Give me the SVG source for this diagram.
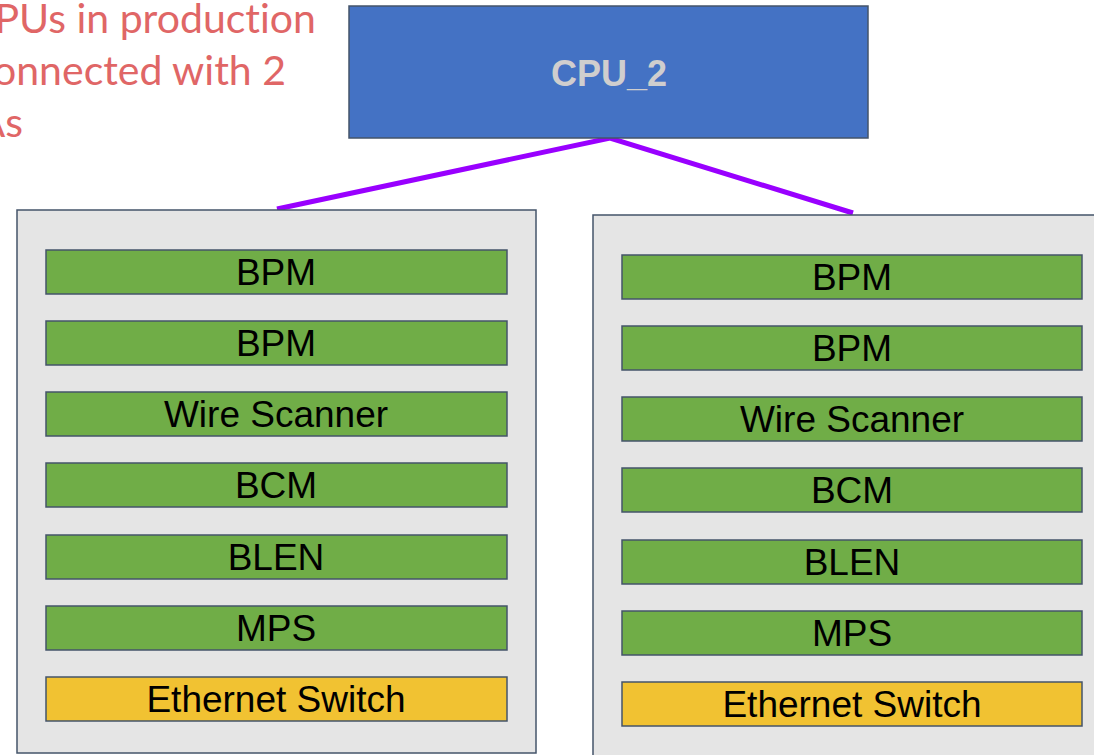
<svg xmlns="http://www.w3.org/2000/svg" width="1094" height="755" viewBox="0 0 1094 755">
  <style>
    .note { font-family: Lato, "Open Sans", sans-serif; font-size: 41px; fill: #e06666; text-anchor: end; font-variant-ligatures: none; }
    .crate { fill: #e5e5e5; stroke: #44546a; stroke-width: 1.5; }
    .card { stroke: #44546a; stroke-width: 1.5; }
    .green { fill: #70ad47; }
    .yellow { fill: #f1c232; }
    .label { font-family: "Liberation Sans", Arial, sans-serif; font-size: 37px; fill: #000; text-anchor: middle; }
    .cpu { fill: #4472c4; stroke: #44546a; stroke-width: 1.5; }
    .cpu-label { font-family: "Liberation Sans", Arial, sans-serif; font-size: 36px; font-weight: bold; fill: #d0cece; text-anchor: middle; }
    .link { stroke: #9900ff; stroke-width: 5; fill: none; }
  </style>

  <!-- annotation text, running off the left edge -->
  <g id="note">
    <text class="note" x="316" y="33">PUs in production</text>
    <text class="note" x="286" y="85">onnected with 2</text>
    <text class="note" x="23" y="137">As</text>
  </g>

  <!-- links from the CPU to both crates -->
  <g id="connectors">
    <polyline class="link" points="277,209 610,138 853,213"/>
  </g>

  <g id="cpu2">
    <rect class="cpu" x="349" y="6" width="519" height="132"/>
    <text class="cpu-label" x="609" y="86">CPU_2</text>
  </g>

  <!-- left crate -->
  <g id="crate-left">
    <rect class="crate" x="17" y="210" width="519" height="543"/>
    <g id="left-bpm1"><rect class="card green" x="46" y="250" width="461" height="44"/><text class="label" x="276" y="285">BPM</text></g>
    <g id="left-bpm2"><rect class="card green" x="46" y="321" width="461" height="44"/><text class="label" x="276" y="356">BPM</text></g>
    <g id="left-ws"><rect class="card green" x="46" y="392" width="461" height="44"/><text class="label" x="276" y="427">Wire Scanner</text></g>
    <g id="left-bcm"><rect class="card green" x="46" y="463" width="461" height="44"/><text class="label" x="276" y="498">BCM</text></g>
    <g id="left-blen"><rect class="card green" x="46" y="535" width="461" height="44"/><text class="label" x="276" y="570">BLEN</text></g>
    <g id="left-mps"><rect class="card green" x="46" y="606" width="461" height="44"/><text class="label" x="276" y="641">MPS</text></g>
    <g id="left-eth"><rect class="card yellow" x="46" y="677" width="461" height="44"/><text class="label" x="276" y="712">Ethernet Switch</text></g>
  </g>

  <!-- right crate -->
  <g id="crate-right">
    <rect class="crate" x="593" y="215" width="520" height="545"/>
    <g id="right-bpm1"><rect class="card green" x="622" y="255" width="460" height="44"/><text class="label" x="852" y="290">BPM</text></g>
    <g id="right-bpm2"><rect class="card green" x="622" y="326" width="460" height="44"/><text class="label" x="852" y="361">BPM</text></g>
    <g id="right-ws"><rect class="card green" x="622" y="397" width="460" height="44"/><text class="label" x="852" y="432">Wire Scanner</text></g>
    <g id="right-bcm"><rect class="card green" x="622" y="468" width="460" height="44"/><text class="label" x="852" y="503">BCM</text></g>
    <g id="right-blen"><rect class="card green" x="622" y="540" width="460" height="44"/><text class="label" x="852" y="575">BLEN</text></g>
    <g id="right-mps"><rect class="card green" x="622" y="611" width="460" height="44"/><text class="label" x="852" y="646">MPS</text></g>
    <g id="right-eth"><rect class="card yellow" x="622" y="682" width="460" height="44"/><text class="label" x="852" y="717">Ethernet Switch</text></g>
  </g>
</svg>
